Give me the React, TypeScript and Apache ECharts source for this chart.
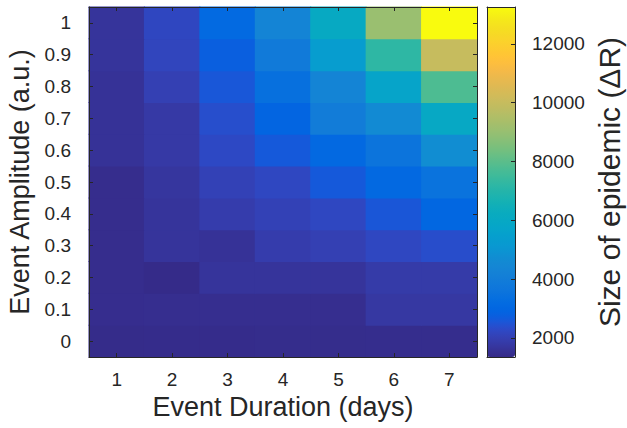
import React, { useEffect, useRef } from "react";
import * as echarts from "echarts";

// Event duration categories (x) and amplitude categories (y)
const durations = ["1", "2", "3", "4", "5", "6", "7"];
const amplitudes = ["0", "0.1", "0.2", "0.3", "0.4", "0.5", "0.6", "0.7", "0.8", "0.9", "1"];

// Size of epidemic per amplitude row, durations 1..7
const amp00 = [1400, 1410, 1420, 1430, 1430, 1440, 1440];
const amp01 = [1460, 1480, 1480, 1480, 1480, 1750, 1750];
const amp02 = [1450, 1380, 1650, 1650, 1650, 1850, 1850];
const amp03 = [1450, 1650, 1600, 1900, 2000, 2200, 2350];
const amp04 = [1450, 1650, 1900, 2050, 2200, 2550, 3000];
const amp05 = [1450, 1700, 2050, 2200, 2600, 3100, 3500];
const amp06 = [1600, 1800, 2250, 2600, 3100, 3580, 4700];
const amp07 = [1600, 1800, 2370, 2930, 3950, 4600, 6000];
const amp08 = [1600, 2000, 2560, 3400, 4325, 5720, 7770];
const amp09 = [1650, 2150, 2745, 3860, 5350, 7210, 10000];
const amp10 = [1650, 2190, 3120, 4325, 6090, 9065, 13250];

const amplitudeRows = [amp00, amp01, amp02, amp03, amp04, amp05, amp06, amp07, amp08, amp09, amp10];

// Colour bar range and ticks
const colorMin = 1350;
const colorMax = 13250;
const colorbarTicks = [2000, 4000, 6000, 8000, 10000, 12000];

// Parula colormap (style)
const parulaRGB = [
  [0.2081, 0.1663, 0.5292], [0.2116, 0.1898, 0.5777], [0.2123, 0.2138, 0.627], [0.2081, 0.2386, 0.6771],
  [0.1959, 0.2645, 0.7279], [0.1707, 0.2919, 0.7792], [0.1253, 0.3242, 0.8303], [0.0591, 0.3598, 0.8683],
  [0.0117, 0.3875, 0.882], [0.006, 0.4086, 0.8828], [0.0165, 0.4266, 0.8786], [0.0329, 0.443, 0.872],
  [0.0498, 0.4586, 0.8641], [0.0629, 0.4737, 0.8554], [0.0723, 0.4887, 0.8467], [0.0779, 0.504, 0.8384],
  [0.0793, 0.52, 0.8312], [0.0749, 0.5375, 0.8263], [0.0641, 0.557, 0.824], [0.0488, 0.5772, 0.8228],
  [0.0343, 0.5966, 0.8199], [0.0265, 0.6137, 0.8135], [0.0239, 0.6287, 0.8038], [0.0231, 0.6418, 0.7913],
  [0.0228, 0.6535, 0.7768], [0.0267, 0.6642, 0.7607], [0.0384, 0.6743, 0.7436], [0.059, 0.6838, 0.7254],
  [0.0843, 0.6928, 0.7062], [0.1133, 0.7015, 0.6859], [0.1453, 0.7098, 0.6646], [0.1801, 0.7177, 0.6424],
  [0.2178, 0.725, 0.6193], [0.2586, 0.7317, 0.5954], [0.3022, 0.7376, 0.5712], [0.3482, 0.7424, 0.5473],
  [0.3953, 0.7459, 0.5244], [0.442, 0.7481, 0.5033], [0.4871, 0.7491, 0.484], [0.53, 0.7491, 0.4661],
  [0.5709, 0.7485, 0.4494], [0.6099, 0.7473, 0.4337], [0.6473, 0.7456, 0.4188], [0.6834, 0.7435, 0.4044],
  [0.7184, 0.7411, 0.3905], [0.7525, 0.7384, 0.3768], [0.7858, 0.7356, 0.3633], [0.8185, 0.7327, 0.3498],
  [0.8507, 0.7299, 0.336], [0.8824, 0.7274, 0.3217], [0.9139, 0.7258, 0.3063], [0.945, 0.7261, 0.2886],
  [0.9739, 0.7314, 0.2666], [0.9938, 0.7455, 0.2403], [0.999, 0.7653, 0.2164], [0.9955, 0.7861, 0.1967],
  [0.988, 0.8066, 0.1794], [0.9789, 0.8271, 0.1633], [0.9697, 0.8481, 0.1475], [0.9626, 0.8705, 0.1309],
  [0.9589, 0.8949, 0.1132], [0.9598, 0.9218, 0.0948], [0.9661, 0.9514, 0.0755], [0.9763, 0.9831, 0.0538],
];
const parula = parulaRGB.map(
  ([r, g, b]) => `rgb(${Math.round(r * 255)},${Math.round(g * 255)},${Math.round(b * 255)})`
);

const FONT = "'Liberation Sans', Arial, Helvetica, sans-serif";
const INK = "#262626";

export default function App() {
  const ref = useRef<HTMLDivElement>(null);

  useEffect(() => {
    if (!ref.current) return;
    const chart = echarts.init(ref.current, undefined, { renderer: "svg" });

    const data = amplitudeRows.flatMap((row, yi) => row.map((v, xi) => [xi, yi, v]));

    const lineStyle = { color: INK, width: 1 };
    const tickLabel = { fontSize: 19, color: INK, fontFamily: FONT };
    const titleStyle = { fontSize: 27, color: INK, fontFamily: FONT };

    chart.setOption({
      animation: false,
      backgroundColor: "#ffffff",
      grid: [
        { left: 89, top: 7, width: 388, height: 350, outerBoundsMode: "none" },
        { left: 487, top: 7, width: 28, height: 350, outerBoundsMode: "none" },
      ],
      xAxis: [
        {
          type: "category",
          gridIndex: 0,
          data: durations,
          position: "bottom",
          z: 10,
          axisLine: { show: true, lineStyle },
          axisTick: { show: true, inside: true, alignWithLabel: true, length: 4, interval: 0, lineStyle },
          axisLabel: { ...tickLabel, interval: 0, margin: 13 },
          splitLine: { show: false },
          name: "Event Duration (days)",
          nameLocation: "middle",
          nameGap: 35,
          nameTextStyle: titleStyle,
        },
        {
          type: "category",
          gridIndex: 0,
          data: durations,
          position: "top",
          z: 10,
          axisLine: { show: true, lineStyle },
          axisTick: { show: true, inside: true, alignWithLabel: true, length: 4, interval: 0, lineStyle },
          axisLabel: { show: false },
          splitLine: { show: false },
        },
        {
          type: "category",
          gridIndex: 1,
          data: [""],
          position: "bottom",
          z: 10,
          axisLine: { show: true, lineStyle },
          axisTick: { show: false },
          axisLabel: { show: false },
          splitLine: { show: false },
        },
        {
          type: "category",
          gridIndex: 1,
          data: [""],
          position: "top",
          z: 10,
          axisLine: { show: true, lineStyle },
          axisTick: { show: false },
          axisLabel: { show: false },
          splitLine: { show: false },
        },
      ],
      yAxis: [
        {
          type: "category",
          gridIndex: 0,
          data: amplitudes,
          position: "left",
          z: 10,
          axisLine: { show: true, lineStyle },
          axisTick: { show: true, inside: true, alignWithLabel: true, length: 4, interval: 0, lineStyle },
          axisLabel: { ...tickLabel, interval: 0, margin: 18 },
          splitLine: { show: false },
          name: "Event Amplitude (a.u.)",
          nameLocation: "middle",
          nameRotate: 90,
          nameGap: 50,
          nameTextStyle: titleStyle,
        },
        {
          type: "category",
          gridIndex: 0,
          data: amplitudes,
          position: "right",
          z: 10,
          axisLine: { show: true, lineStyle },
          axisTick: { show: true, inside: true, alignWithLabel: true, length: 4, interval: 0, lineStyle },
          axisLabel: { show: false },
          splitLine: { show: false },
        },
        {
          type: "value",
          gridIndex: 1,
          min: colorMin,
          max: colorMax,
          position: "right",
          z: 10,
          axisLine: { show: true, lineStyle },
          axisTick: { show: true, inside: true, length: 4, customValues: colorbarTicks, lineStyle },
          axisLabel: {
            ...tickLabel,
            margin: 17,
            customValues: colorbarTicks,
            formatter: (v: number) => String(v),
          },
          splitLine: { show: false },
          name: "Size of epidemic (ΔR)",
          nameLocation: "middle",
          nameRotate: 90,
          nameGap: 79,
          nameTextStyle: { ...titleStyle, fontSize: 30 },
        },
        {
          type: "value",
          gridIndex: 1,
          min: colorMin,
          max: colorMax,
          position: "left",
          z: 10,
          axisLine: { show: true, lineStyle },
          axisTick: { show: false },
          axisLabel: { show: false },
          splitLine: { show: false },
        },
      ],
      visualMap: {
        type: "continuous",
        min: colorMin,
        max: colorMax,
        seriesIndex: 0,
        dimension: 2,
        calculable: false,
        hoverLink: false,
        left: 487,
        top: 7,
        itemWidth: 28,
        itemHeight: 350,
        padding: 0,
        inRange: { color: parula },
      },
      series: [
        {
          type: "custom",
          xAxisIndex: 0,
          yAxisIndex: 0,
          data,
          encode: { x: 0, y: 1 },
          renderItem: (params: any, api: any) => {
            const c = api.coord([api.value(0), api.value(1)]);
            const s = api.size([1, 1]);
            return {
              type: "rect",
              shape: {
                x: c[0] - s[0] / 2 - 0.5,
                y: c[1] - s[1] / 2 - 0.5,
                width: s[0] + 1,
                height: s[1] + 1,
              },
              style: { fill: api.visual("color") },
            };
          },
        },
      ],
    });

    return () => chart.dispose();
  }, []);

  return (
    <div
      ref={ref}
      style={{ position: "fixed", left: 0, top: 0, width: 627, height: 428, background: "#fff" }}
    />
  );
}
